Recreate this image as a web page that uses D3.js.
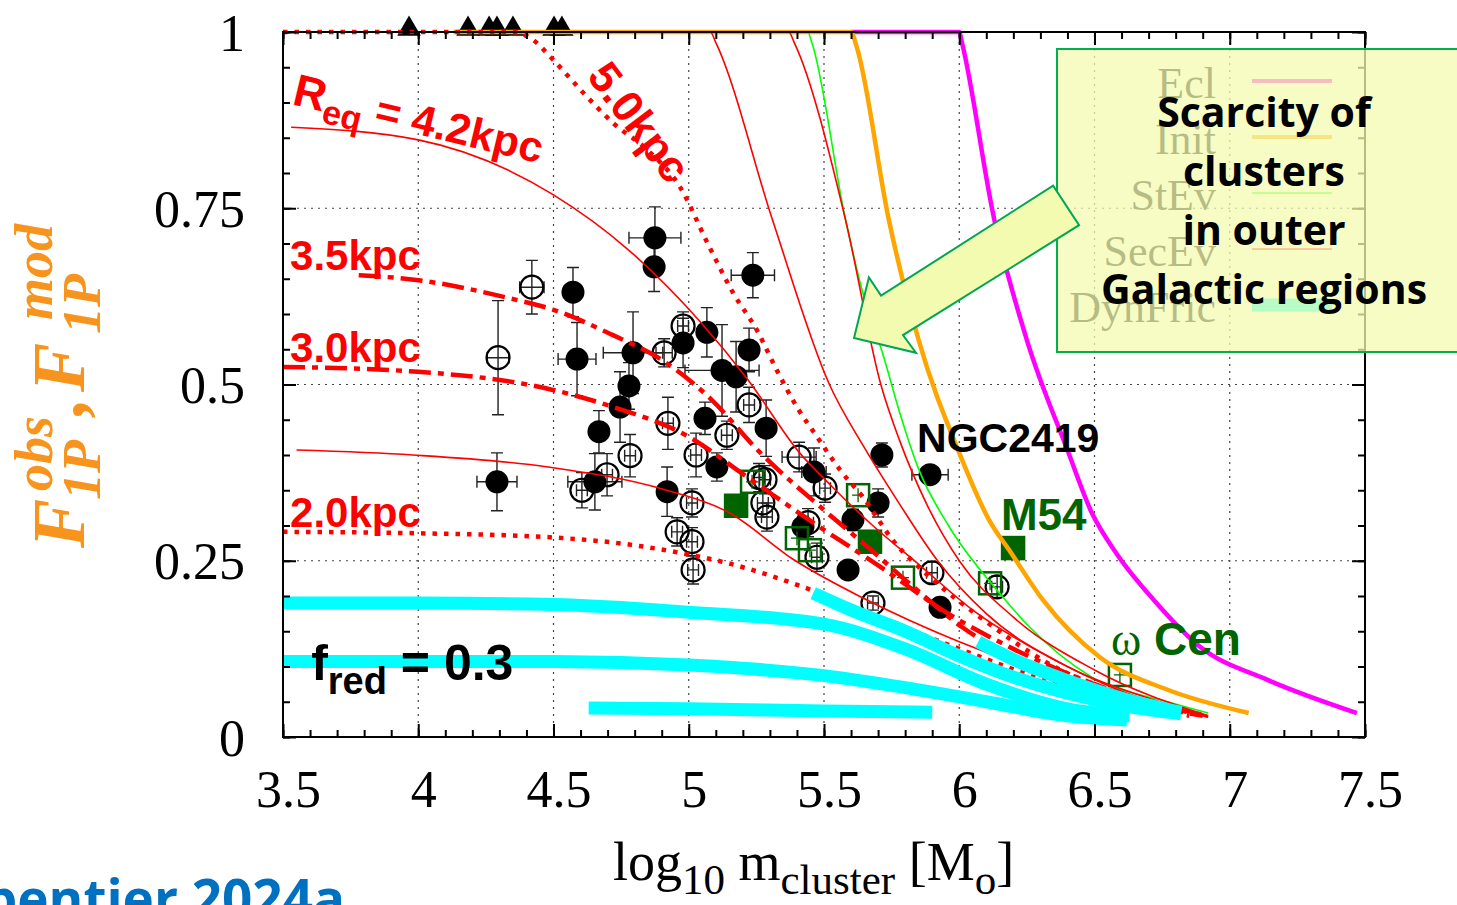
<!DOCTYPE html>
<html>
<head>
<meta charset="utf-8">
<script src="https://cdn.jsdelivr.net/npm/d3@7"></script>
<style>
  body { margin: 0; background: #fff; }
  svg { display: block; }
  .tick text { font-family: "Liberation Serif", "Times New Roman", serif; font-size: 52px; fill: #000; }
</style>
</head>
<body>
<div class="chart"></div>
<script>
// Axes
const xTicks = [3.5, 4, 4.5, 5, 5.5, 6, 6.5, 7, 7.5];
const xTickLabels = ["3.5", "4", "4.5", "5", "5.5", "6", "6.5", "7", "7.5"];
const yTicks = [0, 0.25, 0.5, 0.75, 1];
const yTickLabels = ["0", "0.25", "0.5", "0.75", "1"];

// Observed clusters: [log10 m, F1P, xerr, yerr]
const filledCircles = [
  [4.291, 0.362, 0.074, 0.041], [4.875, 0.708, 0.096, 0.044], [4.872, 0.667, 0, 0.035],
  [4.572, 0.631, 0, 0.035], [4.587, 0.536, 0.07, 0.052], [5.237, 0.655, 0.08, 0.032],
  [5.067, 0.574, 0, 0.035], [4.979, 0.559, 0, 0.035], [4.794, 0.545, 0.11, 0.058],
  [5.223, 0.549, 0, 0.031], [5.123, 0.52, 0.137, 0.065], [5.175, 0.511, 0, 0.05],
  [4.779, 0.498, 0, 0.033], [4.746, 0.468, 0, 0.05], [4.668, 0.433, 0, 0.03],
  [4.653, 0.362, 0.1, 0.04], [4.92, 0.348, 0, 0.035], [5.286, 0.438, 0, 0.04],
  [5.06, 0.452, 0, 0.023], [5.104, 0.383, 0, 0.02], [5.463, 0.376, 0.045, 0.034],
  [5.714, 0.4, 0, 0.017], [5.892, 0.372, 0.067, 0], [5.7, 0.332, 0, 0.02],
  [5.422, 0.298, 0, 0.015], [5.607, 0.308, 0, 0.015], [5.589, 0.237, 0, 0],
  [5.929, 0.184, 0, 0.01]
];
const openCircles = [
  [4.295, 0.538, 0.04, 0.081], [4.42, 0.638, 0.045, 0.038], [4.979, 0.583, 0.02, 0.02],
  [4.909, 0.545, 0.03, 0.02], [5.223, 0.471, 0.02, 0.025], [4.923, 0.445, 0.02, 0.037],
  [5.141, 0.428, 0.02, 0.02], [4.783, 0.399, 0.02, 0.03], [4.698, 0.372, 0.02, 0.03],
  [4.605, 0.35, 0.02, 0.025], [5.027, 0.4, 0.02, 0.031], [5.408, 0.397, 0.063, 0.021],
  [5.504, 0.353, 0.02, 0.02], [5.26, 0.368, 0.02, 0.02], [5.282, 0.365, 0.02, 0.02],
  [5.274, 0.332, 0.02, 0.02], [5.289, 0.312, 0.02, 0.02], [5.012, 0.332, 0.02, 0.02],
  [4.957, 0.291, 0.02, 0.02], [5.012, 0.277, 0.02, 0.02], [5.016, 0.237, 0.02, 0.02],
  [5.681, 0.19, 0.02, 0.01], [5.899, 0.233, 0.02, 0.015], [6.14, 0.213, 0.02, 0.015],
  [5.441, 0.304, 0.02, 0.02], [5.474, 0.255, 0.02, 0.02]
];
const greenOpen = [
  [5.234, 0.362], [5.626, 0.343], [5.792, 0.226], [5.4, 0.282],
  [5.448, 0.265], [6.114, 0.218], [6.594, 0.088]
];
const greenFilled = [[5.175, 0.328], [5.67, 0.277], [6.199, 0.268]];
const triangles = [3.966, 4.184, 4.262, 4.291, 4.35, 4.502, 4.531];

// Model curves: [log10 m, F1P]
const ecl = [[5.6, 1], [6.0, 1], [6.01, 0.985], [6.13, 0.733], [6.25, 0.563], [6.4, 0.407],
  [6.49, 0.318], [6.58, 0.261], [6.72, 0.194], [6.89, 0.128], [7.14, 0.081], [7.47, 0.034]];
const init = [[4.13, 1], [5.6, 1], [5.62, 0.98], [5.74, 0.733], [5.85, 0.563], [6.0, 0.403],
  [6.11, 0.308], [6.19, 0.262], [6.31, 0.194], [6.52, 0.113], [6.77, 0.067], [7.07, 0.034]];
const stev = [[4.5, 1], [5.44, 1], [5.455, 0.985], [5.58, 0.733], [5.64, 0.635], [5.72, 0.54],
  [5.78, 0.46], [5.85, 0.38], [5.96, 0.3], [6.14, 0.208], [6.26, 0.156], [6.49, 0.085],
  [6.77, 0.05], [6.92, 0.034]];
const req20 = [[3.5, 0.291], [4.0, 0.289], [4.5, 0.283], [4.78, 0.273], [4.97, 0.261],
  [5.14, 0.247], [5.45, 0.209], [5.7, 0.17], [6.0, 0.125], [6.4, 0.07], [6.85, 0.03]];
const req25 = [[3.55, 0.407], [3.98, 0.4], [4.48, 0.383], [4.9, 0.352], [5.15, 0.318],
  [5.39, 0.251], [5.65, 0.196], [6.0, 0.135], [6.34, 0.088], [6.7, 0.052], [6.92, 0.028]];
const req30 = [[3.5, 0.525], [4.0, 0.518], [4.49, 0.493], [4.73, 0.467], [4.99, 0.428],
  [5.215, 0.369], [5.46, 0.304], [5.71, 0.241], [5.955, 0.176], [6.2, 0.125], [6.5, 0.075], [6.9, 0.03]];
const req35 = [[3.78, 0.655], [4.0, 0.648], [4.33, 0.623], [4.5, 0.606], [4.72, 0.57],
  [4.9, 0.535], [5.08, 0.48], [5.26, 0.405], [5.5, 0.322], [5.66, 0.27], [5.83, 0.213],
  [6.01, 0.156], [6.3, 0.095], [6.6, 0.055], [6.9, 0.03]];
const req42 = [[3.53, 0.865], [4.0, 0.847], [4.5, 0.769], [4.78, 0.69], [5.04, 0.59],
  [5.22, 0.506], [5.41, 0.403], [5.53, 0.355], [5.68, 0.3], [5.85, 0.245], [6.05, 0.18],
  [6.3, 0.12], [6.6, 0.065], [6.92, 0.028]];
const req50 = [[3.5, 1], [4.35, 1], [4.42, 0.99], [4.5, 0.96], [4.6, 0.918], [4.72, 0.871],
  [4.846, 0.833], [4.968, 0.78], [5.07, 0.7], [5.164, 0.63], [5.252, 0.577], [5.326, 0.52],
  [5.4, 0.468], [5.474, 0.426], [5.559, 0.379], [5.644, 0.34], [5.755, 0.279], [5.903, 0.223],
  [6.077, 0.17], [6.35, 0.1], [6.65, 0.055], [6.92, 0.03]];
const reqA = [[4.5, 1], [5.08, 1], [5.1, 0.985], [5.31, 0.733], [5.52, 0.5], [5.65, 0.41],
  [5.78, 0.33], [5.92, 0.25], [6.1, 0.175], [6.4, 0.1], [6.7, 0.055], [6.92, 0.03]];
const reqB = [[4.8, 1], [5.37, 1], [5.39, 0.985], [5.58, 0.733], [5.71, 0.5], [5.78, 0.42],
  [5.88, 0.33], [6.0, 0.25], [6.2, 0.17], [6.5, 0.095], [6.92, 0.03]];
const dyn1 = [[3.5, 0.19], [4.0, 0.19], [4.5, 0.188], [5.0, 0.177], [5.5, 0.16], [5.8, 0.125],
  [6.1, 0.075], [6.4, 0.04], [6.63, 0.03]];
const dyn2 = [[3.5, 0.107], [4.0, 0.107], [4.5, 0.107], [5.0, 0.102], [5.5, 0.087], [5.8, 0.07],
  [6.1, 0.05], [6.4, 0.03], [6.62, 0.024]];
const dyn3 = [[4.63, 0.041], [5.0, 0.04], [5.5, 0.037], [5.9, 0.035]];
const dyn4 = [[5.46, 0.204], [5.6, 0.18], [5.8, 0.15], [6.0, 0.115], [6.2, 0.085], [6.4, 0.062],
  [6.6, 0.045], [6.82, 0.033]];
const dyn5 = [[6.07, 0.135], [6.2, 0.11], [6.4, 0.08], [6.6, 0.055], [6.82, 0.035]];

const legendNames = ["Ecl", "Init", "StEv", "SecEv", "DynFric"];
const legendColors = ["#ff00ff", "#ffa500", "#00ff00", "#ff0000", "#00ffff"];
const legendWidths = [4, 4, 1.5, 1.5, 13];
const boxLines = ["Scarcity of", "clusters", "in outer", "Galactic regions"];

/* -- Drawing -- */
const W = 1457, H = 905;
const svg = d3.select(".chart").append("svg").attr("width", W).attr("height", H);

const x = d3.scaleLinear().domain([3.5, 7.5]).range([283, 1365]);
const y = d3.scaleLinear().domain([0, 1]).range([737, 32]);

const sans = '"Liberation Sans", Arial, sans-serif';
const serif = '"Liberation Serif", "Times New Roman", serif';

svg.append("defs").append("clipPath").attr("id", "plotclip")
  .append("rect").attr("x", x(3.5)).attr("y", y(1) - 5)
  .attr("width", x(7.5) - x(3.5)).attr("height", y(0) - y(1) + 5);

// grid
const grid = svg.append("g");
grid.selectAll(".gx").data(xTicks.slice(1, -1)).enter().append("line")
  .attr("x1", d => x(d)).attr("x2", d => x(d)).attr("y1", y(0)).attr("y2", y(1));
grid.selectAll(".gy").data(yTicks.slice(1, -1)).enter().append("line")
  .attr("y1", d => y(d)).attr("y2", d => y(d)).attr("x1", x(3.5)).attr("x2", x(7.5));
grid.selectAll("line").attr("stroke", "#444").attr("stroke-width", 1.2).attr("stroke-dasharray", "2,5");

// points
const pts = svg.append("g");
function errorBars(data) {
  const g = pts.append("g").attr("stroke", "#222").attr("stroke-width", 1.4).attr("fill", "none");
  data.forEach(d => {
    const cx = x(d[0]), cy = y(d[1]);
    if (d[2] > 0) {
      const x0 = x(d[0] - d[2]), x1 = x(d[0] + d[2]);
      g.append("path").attr("d", `M${x0},${cy}H${x1}M${x0},${cy - 6}V${cy + 6}M${x1},${cy - 6}V${cy + 6}`);
    }
    if (d[3] > 0) {
      const y0 = y(d[1] - d[3]), y1 = y(d[1] + d[3]);
      g.append("path").attr("d", `M${cx},${y0}V${y1}M${cx - 6},${y0}H${cx + 6}M${cx - 6},${y1}H${cx + 6}`);
    }
  });
}
errorBars(filledCircles);
errorBars(openCircles);
pts.selectAll(".oc").data(openCircles).enter().append("circle")
  .attr("cx", d => x(d[0])).attr("cy", d => y(d[1])).attr("r", 11.5)
  .attr("fill", "none").attr("stroke", "#000").attr("stroke-width", 2.2);
pts.selectAll(".fc").data(filledCircles).enter().append("circle")
  .attr("cx", d => x(d[0])).attr("cy", d => y(d[1])).attr("r", 11.5).attr("fill", "#000");
const gs = pts.append("g").attr("stroke", "#006400").attr("stroke-width", 2.5);
gs.selectAll(".go").data(greenOpen).enter().append("rect")
  .attr("x", d => x(d[0]) - 11).attr("y", d => y(d[1]) - 11).attr("width", 22).attr("height", 22)
  .attr("fill", "none");
gs.selectAll(".go2").data(greenOpen).enter().append("path")
  .attr("stroke-width", 1.3)
  .attr("d", d => `M${x(d[0]) - 6},${y(d[1])}H${x(d[0]) + 6}M${x(d[0])},${y(d[1]) - 7}V${y(d[1]) + 7}`);
gs.selectAll(".gf").data(greenFilled).enter().append("rect")
  .attr("x", d => x(d[0]) - 11).attr("y", d => y(d[1]) - 11).attr("width", 22).attr("height", 22)
  .attr("fill", "#006400");
pts.selectAll(".tri").data(triangles).enter().append("path")
  .attr("d", d3.symbol(d3.symbolTriangle, 240))
  .attr("transform", d => `translate(${x(d)},${y(1) - 3})`).attr("fill", "#000");

// model curves
const line = d3.line().x(d => x(d[0])).y(d => y(d[1])).curve(d3.curveMonotoneX);
const curves = svg.append("g").attr("clip-path", "url(#plotclip)").attr("fill", "none");
function drawCurve(data, color, width, dash) {
  curves.append("path").datum(data).attr("d", line)
    .attr("stroke", color).attr("stroke-width", width)
    .attr("stroke-dasharray", dash || null).attr("stroke-linejoin", "round");
}
drawCurve(ecl, "#ff00ff", 4.5);
drawCurve(init, "#ffa500", 4.5);
drawCurve(stev, "#00ff00", 1.6);
drawCurve(req25, "#ff0000", 1.6);
drawCurve(req42, "#ff0000", 1.6);
drawCurve(reqA, "#ff0000", 1.6);
drawCurve(reqB, "#ff0000", 1.6);
drawCurve(req20, "#ff0000", 4.5, "4.5,7");
drawCurve(req50, "#ff0000", 4.5, "4.5,7");
drawCurve(req30, "#ff0000", 4.5, "22,7,6,7");
drawCurve(req35, "#ff0000", 4.5, "22,7,6,7");
[dyn1, dyn2, dyn3, dyn4, dyn5].forEach(d => drawCurve(d, "#00ffff", 13));

// axes
function ticks(axis, tr, values, size, labels) {
  const g = svg.append("g").attr("transform", tr)
    .call(axis.tickValues(values).tickSize(size).tickFormat(labels ? (d, i) => labels[i] : ""));
  g.select(".domain").remove();
  g.selectAll("line").attr("stroke", "#000").attr("stroke-width", 2);
  return g;
}
const xMinor = d3.range(35, 76).map(v => v / 10);
const yMinor = d3.range(0, 21).map(v => v / 20);
ticks(d3.axisBottom(x), `translate(0,${y(0)})`, xMinor, -7);
ticks(d3.axisTop(x), `translate(0,${y(1)})`, xMinor, -7);
ticks(d3.axisLeft(y), `translate(${x(3.5)},0)`, yMinor, -7);
ticks(d3.axisRight(y), `translate(${x(7.5)},0)`, yMinor, -7);
const gxb = ticks(d3.axisBottom(x), `translate(0,${y(0)})`, xTicks, -13, xTickLabels);
gxb.selectAll("text").attr("y", 70).attr("dy", 0).attr("dx", 5);
ticks(d3.axisTop(x), `translate(0,${y(1)})`, xTicks, -13);
const gyl = ticks(d3.axisLeft(y), `translate(${x(3.5)},0)`, yTicks, -13, yTickLabels);
gyl.selectAll("text").attr("x", -38).attr("dy", 18);
ticks(d3.axisRight(y), `translate(${x(7.5)},0)`, yTicks, -13);
svg.append("rect").attr("x", x(3.5)).attr("y", y(1)).attr("width", x(7.5) - x(3.5))
  .attr("height", y(0) - y(1)).attr("fill", "none").attr("stroke", "#000").attr("stroke-width", 2);

// axis titles
const xt = svg.append("text").attr("x", 613).attr("y", 880)
  .attr("font-family", serif).attr("font-size", 54);
[["log", 54, 0], ["10", 43, 14], [" m", 54, -14], ["cluster", 43, 14], [" [M", 54, -14], ["o", 43, 14], ["]", 54, -14]]
  .forEach(p => xt.append("tspan").text(p[0]).attr("font-size", p[1]).attr("dy", p[2]));

const yl = svg.append("g").attr("transform", "rotate(-90)")
  .attr("font-family", serif).attr("font-weight", "bold").attr("font-style", "italic").attr("fill", "#f7941d");
[["F", -548, 84, 74], ["obs", -491, 52, 54], ["1P", -500, 100, 54], [",", -416, 84, 74],
 ["F", -392, 84, 74], ["mod", -320, 52, 54], ["1P", -334, 100, 54]]
  .forEach(p => yl.append("text").text(p[0]).attr("x", p[1]).attr("y", p[2]).attr("font-size", p[3]));

// curve labels
function label(txt, lx, ly, size, color, rot) {
  return svg.append("text").attr("transform", `translate(${x(lx)},${y(ly)}) rotate(${rot || 0})`)
    .attr("font-family", sans).attr("font-weight", "bold").attr("font-size", size).attr("fill", color).text(txt);
}
const rq = label("", 3.53, 0.898, 45, "#ff0000", 13.5);
rq.append("tspan").text("R");
rq.append("tspan").text("eq").attr("font-size", 34).attr("dy", 11);
rq.append("tspan").text(" = 4.2kpc").attr("font-size", 43).attr("dy", -11);
label("5.0kpc", 4.62, 0.937, 44, "#ff0000", 53);
label("3.5kpc", 3.526, 0.662, 42, "#ff0000");
label("3.0kpc", 3.526, 0.532, 42, "#ff0000");
label("2.0kpc", 3.526, 0.298, 42, "#ff0000");
const fr = label("", 3.604, 0.081, 50, "#000");
fr.append("tspan").text("f");
fr.append("tspan").text("red").attr("font-size", 38).attr("dy", 14);
fr.append("tspan").text(" = 0.3").attr("dy", -14);
label("NGC2419", 5.844, 0.404, 41, "#000");
label("M54", 6.154, 0.294, 44, "#006400");
const wc = label("", 6.561, 0.116, 46, "#006400");
wc.append("tspan").text("ω").attr("font-family", serif).attr("font-weight", "normal");
wc.append("tspan").text(" Cen");

// gnuplot key (under the overlay box)
const key = svg.append("g");
legendNames.forEach((n, i) => {
  const ky = 81 + i * 56;
  key.append("text").text(n).attr("x", 1216).attr("y", ky + 17).attr("text-anchor", "end")
    .attr("font-family", serif).attr("font-size", 44).attr("fill", "#000");
  key.append("line").attr("x1", 1252).attr("x2", 1332).attr("y1", ky).attr("y2", ky)
    .attr("stroke", legendColors[i]).attr("stroke-width", legendWidths[i]);
});

// overlay box and arrow
svg.append("rect").attr("x", 1057).attr("y", 49).attr("width", 420).attr("height", 303)
  .attr("fill", "#f3fbb0").attr("fill-opacity", 0.75).attr("stroke", "#00b050").attr("stroke-width", 2);
const arrowPts = [[5.611, 0.566], [5.666, 0.652], [5.711, 0.626], [6.347, 0.782],
  [6.443, 0.726], [5.792, 0.57], [5.84, 0.545]];
svg.append("polygon").attr("points", arrowPts.map(p => [x(p[0]), y(p[1])].join(",")).join(" "))
  .attr("fill", "#f3fbb0").attr("stroke", "#00a651").attr("stroke-width", 2);
boxLines.forEach((t, i) => {
  svg.append("text").text(t).attr("x", 1264).attr("y", 127 + i * 59).attr("text-anchor", "middle")
    .attr("font-family", '"Open Sans", sans-serif').attr("font-weight", "bold").attr("font-size", 41).attr("fill", "#000");
});

// citation (cut off at the left edge)
svg.append("text").text("Charpentier 2024a").attr("x", 345).attr("y", 918).attr("text-anchor", "end")
  .attr("font-family", '"Open Sans", sans-serif').attr("font-weight", "bold").attr("font-size", 53).attr("fill", "#0070c0");
</script>
</body>
</html>
